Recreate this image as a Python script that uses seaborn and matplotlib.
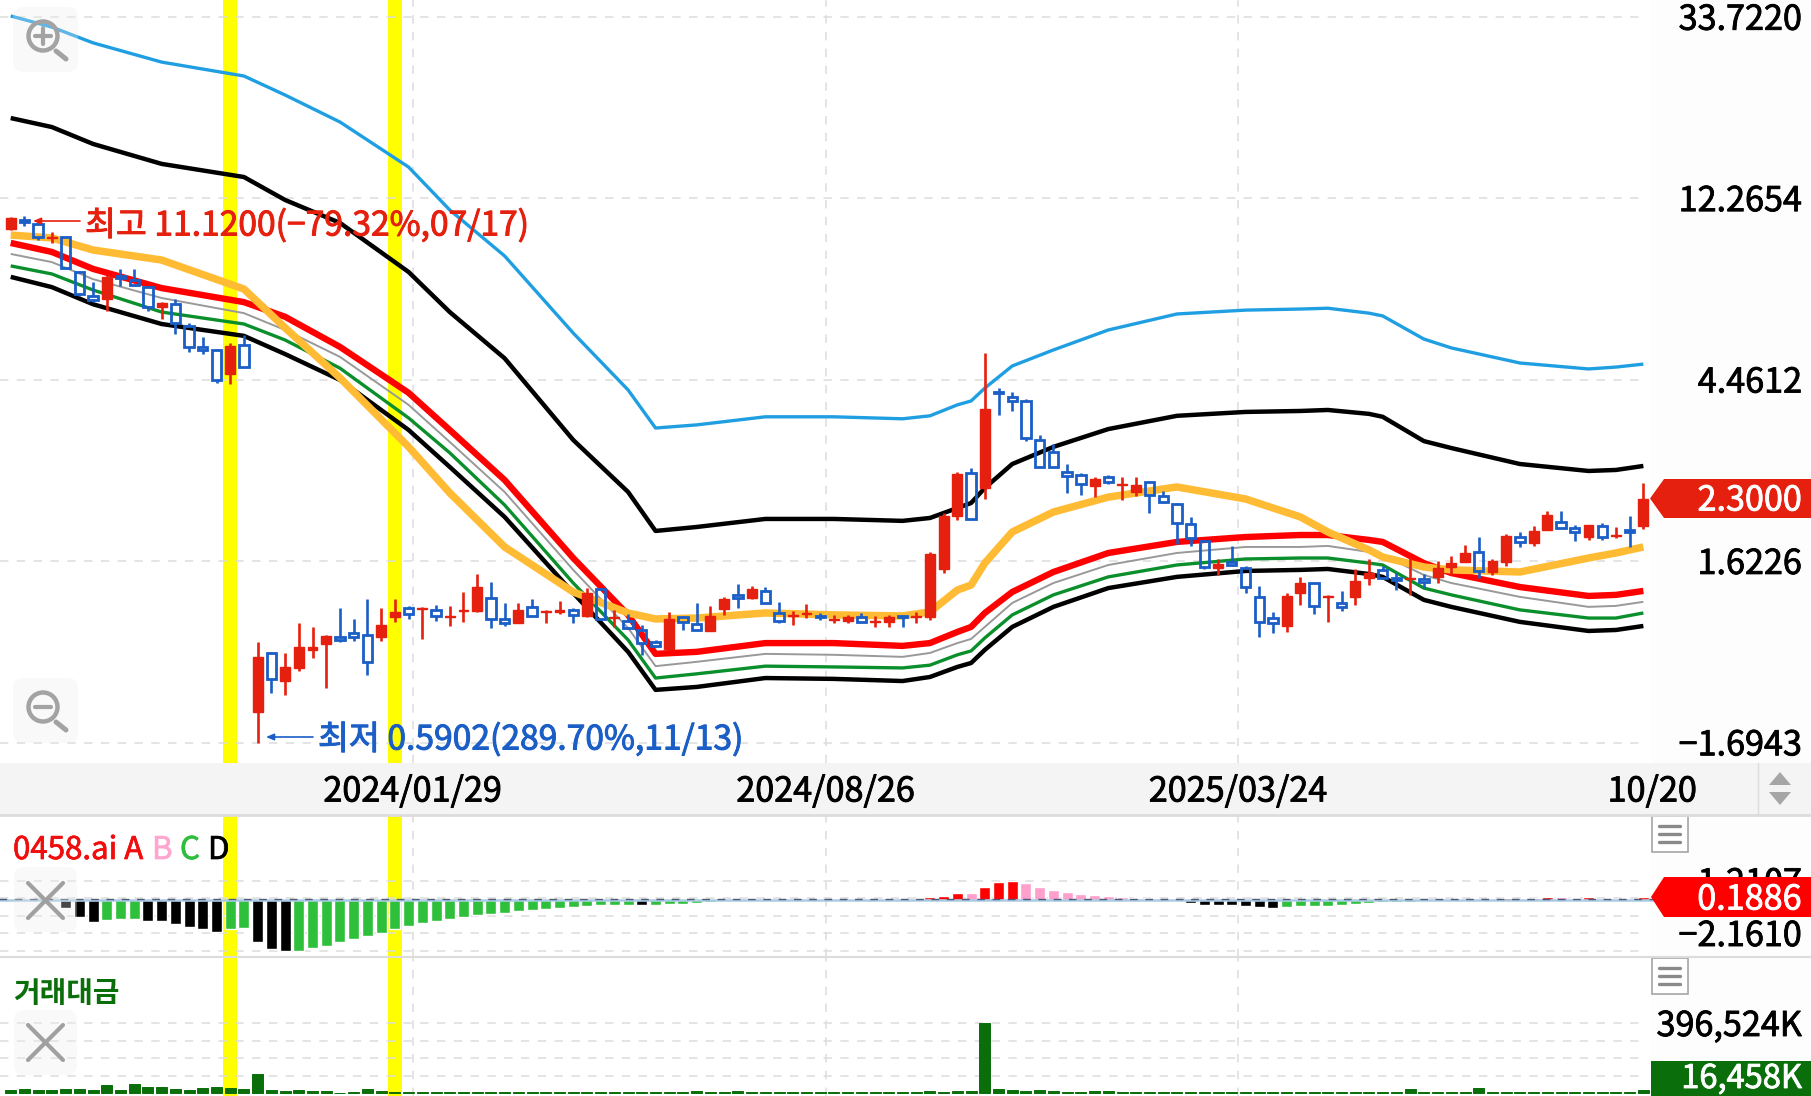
import pandas as pd
import seaborn as sns
import matplotlib.pyplot as plt
import matplotlib.patheffects as pe
from matplotlib.patches import Rectangle, Polygon, FancyBboxPatch, Circle
from matplotlib.transforms import ScaledTranslation

W, H = 1811, 1096

# weekly candles
opens = [10.35, 10.88, 10.64, 9.84, 9.89, 8.14, 7.12, 7.00, 7.96, 7.78,
         7.48, 6.69, 6.80, 6.02, 5.36, 5.27, 4.60, 5.42, 0.700, 0.973,
         0.832, 0.895, 0.990, 1.023, 1.064, 1.088, 1.076, 1.064, 1.189, 1.251,
         1.244, 1.237, 1.189, 1.230, 1.230, 1.322, 1.176, 1.150, 1.258, 1.223,
         1.223, 1.237, 1.196, 1.390, 1.182, 1.163, 1.106, 1.034, 0.996, 1.189,
         1.144, 1.100, 1.244, 1.345, 1.322, 1.375, 1.216, 1.196, 1.210, 1.196,
         1.170, 1.163, 1.189, 1.157, 1.157, 1.196, 1.189, 1.189, 1.554, 2.088,
         2.654, 2.441, 4.17, 4.06, 3.965, 3.19, 2.985, 2.669, 2.625, 2.469,
         2.596, 2.483, 2.387, 2.525, 2.334, 2.232, 1.998, 1.817, 1.563, 1.616,
         1.563, 1.330, 1.182, 1.131, 1.359, 1.437, 1.330, 1.286, 1.330, 1.478,
         1.546, 1.478, 1.470, 1.470, 1.487, 1.571, 1.616, 1.709, 1.528, 1.616,
         1.857, 1.797, 1.932, 2.020, 1.954, 1.857, 1.975, 1.868, 1.932, 1.975]
closes = [11.00, 10.76, 9.89, 9.89, 8.32, 7.20, 6.96, 7.92, 7.87, 7.57,
          6.69, 6.84, 6.12, 5.36, 5.27, 4.46, 5.39, 4.79, 0.952, 0.842,
          0.900, 1.006, 1.006, 1.070, 1.046, 1.064, 0.926, 1.138, 1.223, 1.210,
          1.251, 1.196, 1.196, 1.237, 1.405, 1.176, 1.150, 1.237, 1.196, 1.230,
          1.237, 1.203, 1.359, 1.176, 1.189, 1.118, 1.028, 1.012, 1.176, 1.157,
          1.106, 1.196, 1.315, 1.322, 1.390, 1.286, 1.163, 1.203, 1.216, 1.189,
          1.176, 1.189, 1.157, 1.163, 1.189, 1.189, 1.196, 1.689, 2.088, 2.639,
          2.054, 3.792, 4.15, 3.965, 3.225, 2.745, 2.745, 2.610, 2.497, 2.567,
          2.525, 2.497, 2.483, 2.350, 2.258, 2.009, 1.847, 1.570, 1.597, 1.589,
          1.405, 1.157, 1.150, 1.337, 1.437, 1.265, 1.337, 1.258, 1.454, 1.519,
          1.478, 1.462, 1.478, 1.446, 1.563, 1.606, 1.699, 1.537, 1.625, 1.868,
          1.807, 1.921, 2.100, 1.954, 1.910, 1.986, 1.857, 1.878, 1.910, 2.300]
highs = [11.06, 11.12, 10.70, 10.17, 9.95, 8.18, 7.69, 8.00, 8.28, 8.28,
         7.53, 6.88, 7.00, 6.12, 5.67, 5.30, 5.48, 5.73, 1.034, 0.979,
         0.973, 1.150, 1.125, 1.076, 1.251, 1.176, 1.315, 1.251, 1.315, 1.265,
         1.258, 1.272, 1.265, 1.367, 1.511, 1.446, 1.286, 1.286, 1.315, 1.237,
         1.301, 1.251, 1.397, 1.397, 1.237, 1.210, 1.138, 1.046, 1.223, 1.196,
         1.286, 1.265, 1.330, 1.429, 1.413, 1.405, 1.294, 1.230, 1.279, 1.216,
         1.203, 1.203, 1.216, 1.196, 1.203, 1.196, 1.223, 1.709, 2.123, 2.669,
         2.729, 5.18, 4.26, 4.17, 4.01, 3.28, 3.12, 2.79, 2.654, 2.596,
         2.625, 2.596, 2.596, 2.538, 2.40, 2.245, 2.077, 1.827, 1.643, 1.767,
         1.58, 1.413, 1.223, 1.359, 1.487, 1.446, 1.345, 1.375, 1.554, 1.643,
         1.58, 1.519, 1.652, 1.511, 1.625, 1.67, 1.777, 1.857, 1.643, 1.889,
         1.91, 1.975, 2.147, 2.147, 1.986, 1.986, 2.009, 1.964, 2.088, 2.51]
lows = [10.30, 10.52, 9.73, 9.57, 8.28, 7.12, 6.88, 6.55, 7.53, 7.53,
        6.55, 6.26, 5.76, 5.21, 5.15, 4.39, 4.36, 4.79, 0.5902, 0.779,
        0.770, 0.880, 0.946, 0.801, 1.034, 1.040, 0.860, 1.040, 1.157, 1.176,
        1.052, 1.163, 1.131, 1.157, 1.223, 1.118, 1.131, 1.150, 1.196, 1.150,
        1.210, 1.150, 1.189, 1.170, 1.125, 1.112, 0.963, 1.006, 0.990, 1.106,
        1.106, 1.100, 1.203, 1.251, 1.315, 1.286, 1.150, 1.138, 1.182, 1.170,
        1.150, 1.150, 1.157, 1.125, 1.125, 1.125, 1.150, 1.170, 1.519, 2.043,
        2.054, 2.296, 3.67, 3.75, 3.17, 2.745, 2.745, 2.375, 2.35, 2.32,
        2.497, 2.283, 2.334, 2.123, 2.245, 1.788, 1.767, 1.554, 1.503, 1.58,
        1.359, 1.064, 1.088, 1.094, 1.272, 1.21, 1.157, 1.23, 1.272, 1.421,
        1.478, 1.382, 1.345, 1.397, 1.437, 1.503, 1.616, 1.478, 1.503, 1.58,
        1.757, 1.767, 1.932, 1.954, 1.817, 1.827, 1.827, 1.847, 1.757, 1.943]

# moving lines, sampled at these candle numbers
knots = [0, 3, 6, 11, 17, 20, 24, 29, 32, 36, 41, 45, 47, 50, 55, 60, 65, 67, 69, 70,
         71, 73, 76, 80, 85, 90, 94, 96, 99, 100, 103, 105, 110, 115, 117, 119]
line_blue = [33.92, 31.88, 29.2, 26.23, 24.27, 21.83, 18.78, 14.61, 11.5, 8.90, 5.79, 4.216,
             3.41, 3.47, 3.63, 3.63, 3.59, 3.65, 3.88, 3.965, 4.26, 4.82, 5.27, 5.89,
             6.44, 6.58, 6.62, 6.65, 6.47, 6.37, 5.60, 5.33, 4.90, 4.74, 4.79, 4.87]
line_upper = [19.2, 18.26, 16.62, 14.87, 13.82, 12.16, 10.70, 8.14, 6.51, 5.03, 3.19, 2.387,
              1.921, 1.964, 2.054, 2.054, 2.032, 2.065, 2.183, 2.245, 2.441, 2.79, 3.07, 3.39,
              3.65, 3.73, 3.75, 3.771, 3.69, 3.63, 3.17, 3.05, 2.79, 2.684, 2.699, 2.76]
line_red = [9.57, 9.10, 8.28, 7.44, 6.88, 6.34, 5.36, 4.15, 3.373, 2.552, 1.652, 1.203,
            0.968, 0.979, 1.028, 1.028, 1.012, 1.028, 1.094, 1.125, 1.216, 1.367, 1.528, 1.699,
            1.807, 1.857, 1.878, 1.878, 1.827, 1.807, 1.606, 1.519, 1.405, 1.337, 1.345, 1.375]
line_grey = [9.0, 8.60, 7.82, 7.04, 6.47, 5.89, 5.07, 3.88, 3.155, 2.387, 1.546, 1.118,
             0.904, 0.926, 0.968, 0.963, 0.952, 0.973, 1.028, 1.052, 1.125, 1.286, 1.437, 1.589,
             1.699, 1.757, 1.757, 1.767, 1.709, 1.68, 1.503, 1.437, 1.33, 1.258, 1.265, 1.294]
line_green = [8.42, 8.05, 7.36, 6.51, 6.09, 5.57, 4.76, 3.607, 2.97, 2.22, 1.437, 1.046,
              0.846, 0.866, 0.904, 0.90, 0.895, 0.909, 0.963, 0.984, 1.058, 1.203, 1.345, 1.487,
              1.589, 1.643, 1.652, 1.652, 1.606, 1.589, 1.397, 1.345, 1.237, 1.182, 1.182, 1.216]
line_lower = [7.92, 7.48, 6.80, 6.09, 5.70, 5.15, 4.458, 3.373, 2.745, 2.077, 1.359, 0.979,
              0.792, 0.805, 0.846, 0.842, 0.832, 0.851, 0.90, 0.92, 0.99, 1.125, 1.258, 1.397,
              1.487, 1.537, 1.546, 1.554, 1.511, 1.487, 1.308, 1.258, 1.157, 1.10, 1.106, 1.131]
line_orange = [10.0, 9.84, 9.2, 8.7, 7.40, 5.96, 4.51, 3.07, 2.375, 1.757, 1.367, 1.216,
               1.176, 1.182, 1.216, 1.203, 1.196, 1.223, 1.382, 1.421, 1.606, 1.91, 2.135, 2.32,
               2.455, 2.296, 2.077, 1.91, 1.728, 1.661, 1.571, 1.546, 1.528, 1.652, 1.699, 1.757]

# 0458.ai panel
osc_values = [-0.02, -0.02, -0.02, -0.05, -0.56, -1.09, -1.41, -1.30, -1.24, -1.24,
              -1.39, -1.39, -1.56, -1.77, -1.86, -2.05, -1.88, -1.84, -2.69, -3.14,
              -3.29, -3.27, -3.12, -2.95, -2.74, -2.52, -2.35, -2.14, -1.88, -1.71,
              -1.52, -1.37, -1.24, -1.11, -0.96, -0.90, -0.83, -0.75, -0.68, -0.60,
              -0.53, -0.47, -0.38, -0.36, -0.36, -0.34, -0.34, -0.32, -0.28, -0.26,
              -0.24, -0.17, -0.11, -0.09, -0.04, -0.03, -0.02, -0.03, -0.04, -0.03,
              -0.04, -0.05, -0.03, -0.02, -0.02, -0.02, -0.02, 0.15, 0.24, 0.45,
              0.45, 0.83, 1.11, 1.22, 1.09, 0.83, 0.64, 0.49, 0.36, 0.30,
              0.24, 0.15, 0.10, 0.10, 0.06, -0.09, -0.19, -0.32, -0.32, -0.36,
              -0.41, -0.49, -0.53, -0.47, -0.43, -0.41, -0.38, -0.34, -0.28, -0.19,
              -0.17, -0.15, -0.13, -0.11, -0.06, -0.02, -0.02, -0.02, 0.02, 0.13,
              0.04, 0.09, 0.19, 0.15, 0.13, 0.17, 0.04, 0.04, 0.04, 0.1886]
osc_groups = (['D'] * 7 + ['C'] * 3 + ['D'] * 6 + ['C'] * 2 + ['D'] * 3 + ['C'] * 25 + ['D']
              + ['C'] * 20 + ['A'] * 3 + ['B'] + ['A'] * 3 + ['B'] * 11 + ['D'] * 8 + ['C'] * 16
              + ['A', 'B', 'A', 'A', 'B', 'B', 'A', 'B', 'B', 'B', 'A'])
osc_ticks = [1.2107, -2.1610]
osc_ticklabels = ['1.2107', '−2.1610']
osc_grid = [1.2107, 0.09, -1.032, -2.1610, -3.29]

# 거래대금 panel, in K
turnover = [17000, 26000, 17000, 19000, 23000, 25000, 21000, 45000, 21000, 51000,
            38000, 36000, 25000, 19000, 30000, 38000, 32000, 26000, 111000, 19000,
            13000, 19000, 11000, 13000, 4000, 6000, 23000, 13000, 8000, 8000,
            6000, 6000, 6000, 6000, 5000, 5000, 5000, 6000, 6000, 8000,
            7000, 7000, 7000, 7000, 7000, 7000, 6000, 5000, 6000, 6000,
            15000, 6000, 6000, 11000, 7000, 7000, 7000, 5000, 5000, 5000,
            5000, 5000, 5000, 5000, 5000, 5000, 5000, 13000, 8000, 15000,
            15000, 396524, 23000, 19000, 15000, 19000, 13000, 6000, 8000, 15000,
            11000, 8000, 6000, 5000, 6000, 6000, 5000, 6000, 6000, 5000,
            6000, 6000, 5000, 6000, 6000, 5000, 6000, 5000, 6000, 8000,
            6000, 6000, 23000, 6000, 5000, 6000, 6000, 28000, 6000, 5000,
            6000, 8000, 6000, 6000, 5000, 6000, 6000, 5000, 8000, 16458]
turnover_grid = [396524, 297393, 198262, 99131]

price_ticks = [33.7220, 12.2654, 4.4612, 1.6226, 0.5902]
price_ticklabels = ['33.7220', '12.2654', '4.4612', '1.6226', '−1.6943']
date_ticks = [29.3, 59.4, 89.46]
date_ticklabels = ['2024/01/29', '2024/08/26', '2025/03/24']
marked_candles = [16, 28]

RED = '#e6200e'
BLUE = '#1a5ec6'
GRID = '#dddddd'
DASH = (0, (5.5, 5.5))
FONT = ['Noto Sans CJK KR', 'DejaVu Sans']
LABEL_SIZE = 24.6
X_LEFT = -10.7 / 13.72
X_RIGHT = (1660 - 10.7) / 13.72
GRID_END = 119.3

sns.set_theme(style='white')
plt.rcParams['font.family'] = FONT
plt.rcParams['axes.unicode_minus'] = False


def heavy(width=0.6):
    # the app's font is a little heavier than Noto regular
    return [pe.withStroke(linewidth=width, foreground='black')]


def coloured(colour, width=0.7):
    return [pe.withStroke(linewidth=width, foreground=colour)]


def panel(top, bottom, left=0, right=1660):
    # axes placed by pixel box
    ax = fig.add_axes([left / W, 1 - bottom / H, (right - left) / W, (bottom - top) / H])
    ax.patch.set_visible(False)
    for s in ax.spines.values():
        s.set_visible(False)
    return ax


def dress(ax):
    ax.set_xlim(X_LEFT, X_RIGHT)
    ax.set_xlabel('')
    ax.set_ylabel('')
    for d in date_ticks:
        ax.axvline(d, color=GRID, lw=1.1, ls=DASH, zorder=1)
    for m in marked_candles:
        ax.axvspan(m - 0.5, m + 0.5, color='#ffff00', lw=0, zorder=0.5)
    ax.yaxis.tick_right()
    ax.tick_params(axis='y', length=0, pad=(1802 - 1660) * 0.72, labelsize=LABEL_SIZE, labelcolor='black')
    down = ScaledTranslation(0, -3.2 / 100, fig.dpi_scale_trans)
    for t in ax.get_yticklabels():
        t.set_horizontalalignment('right')
        t.set_verticalalignment('center')
        t.set_transform(t.get_transform() + down)
        t.set_path_effects(heavy())


fig = plt.figure(figsize=(W / 100, H / 100), dpi=100, facecolor='white')

# background of the right scale and the date strip
bg = fig.add_axes([0, 0, 1, 1], zorder=-1)
bg.set_xlim(0, W)
bg.set_ylim(H, 0)
bg.axis('off')
bg.add_patch(Rectangle((1651, 0), W - 1651, H, color='#fdfdfd', lw=0))
bg.add_patch(Rectangle((0, 763), W, 52, color='#f4f4f4', lw=0))

# price panel
ax = panel(0, 763)
ax.set_yscale('log')
ax.set_ylim(0.5268, 37.08)
ax.hlines(price_ticks, X_LEFT, GRID_END, color=GRID, lw=1.1, linestyles=DASH, zorder=1)

line_styles = [(line_blue, '#1f9fe2', 2.4), (line_upper, 'black', 3.2), (line_grey, '#999999', 1.4),
               (line_green, '#0b8f2c', 2.4), (line_lower, 'black', 3.2), (line_red, '#ff0000', 4.6),
               (line_orange, '#ffbb33', 5.4)]
for values, colour, lw in line_styles:
    sns.lineplot(x=knots, y=values, color=colour, lw=lw, ax=ax, zorder=3,
                 solid_capstyle='butt', solid_joinstyle='round')

# candles: up weeks filled red, down weeks hollow blue
up = [i for i in range(len(opens)) if closes[i] >= opens[i]]
down = [i for i in range(len(opens)) if closes[i] < opens[i]]
ax.vlines(up, [lows[i] for i in up], [highs[i] for i in up], color=RED, lw=1.9, zorder=4)
ax.bar(up, [closes[i] - opens[i] for i in up], bottom=[opens[i] for i in up], width=0.72,
       color=RED, edgecolor=RED, lw=1.0, zorder=5)
ax.vlines(down, [opens[i] for i in down], [highs[i] for i in down], color=BLUE, lw=1.9, zorder=4)
ax.vlines(down, [lows[i] for i in down], [closes[i] for i in down], color=BLUE, lw=1.9, zorder=4)
ax.bar(down, [opens[i] - closes[i] for i in down], bottom=[closes[i] for i in down], width=0.68,
       facecolor='none', edgecolor=BLUE, lw=2.0, zorder=5)

ax.set_yticks(price_ticks, price_ticklabels)
ax.minorticks_off()
ax.set_xticks(date_ticks + [119.65], date_ticklabels + ['10/20'])
ax.tick_params(axis='x', length=0, pad=29 * 0.72, labelsize=LABEL_SIZE, labelcolor='black')
for t in ax.get_xticklabels():
    t.set_verticalalignment('center')
    t.set_path_effects(heavy())
dress(ax)

# oscillator panel
ax2 = panel(816, 957)
osc = pd.DataFrame({'n': range(len(osc_values)), 'v': osc_values, 'g': osc_groups})
ax2.hlines(osc_grid, X_LEFT, GRID_END, color=GRID, lw=1.1, linestyles=DASH, zorder=1)
ax2.axhline(0, color='#a9cbe3', lw=1.8, zorder=3)
sns.barplot(data=osc, x='n', y='v', hue='g', dodge=False, native_scale=True, width=0.8, saturation=1,
            palette={'A': '#ff0000', 'B': '#ff9fcb', 'C': '#2ec03a', 'D': 'black'},
            legend=False, ax=ax2, zorder=2)
ax2.plot([-1, 120], [0.06, 0.06], color='#4d5a78', lw=1.0, ls=DASH, zorder=4)
ax2.set_ylim(-3.679, 5.359)
ax2.set_yticks(osc_ticks, osc_ticklabels)
ax2.set_xticks([])
dress(ax2)

# turnover panel
ax3 = panel(958, H)
vol = pd.DataFrame({'n': range(len(turnover)), 'v': turnover})
ax3.hlines(turnover_grid, X_LEFT, GRID_END, color=GRID, lw=1.1, linestyles=DASH, zorder=1)
sns.barplot(data=vol, x='n', y='v', native_scale=True, width=0.8, saturation=1, color='#0a6e0a',
            edgecolor='#0a6e0a', linewidth=0.7, ax=ax3, zorder=2)
ax3.set_ylim(-15300, 766500)
ax3.set_yticks([396524], ['396,524K'])
ax3.set_xticks([])
dress(ax3)

# everything that sits on top of the chart: buttons, tags, legends
top = fig.add_axes([0, 0, 1, 1], zorder=10)
top.set_xlim(0, W)
top.set_ylim(H, 0)
top.axis('off')
top.patch.set_visible(False)

top.plot([0, W], [815, 815], color='#dcdcdc', lw=2)
top.plot([0, W], [957, 957], color='#dcdcdc', lw=1.5)
top.plot([1757.5, 1757.5], [763, 815], color='#dddddd', lw=1)
top.add_patch(Polygon([(1780, 772), (1769, 785), (1791, 785)], color='#a6a6a6', lw=0))
top.add_patch(Polygon([(1780, 805), (1769, 792), (1791, 792)], color='#a6a6a6', lw=0))

for y0 in [7, 678]:
    top.add_patch(FancyBboxPatch((19, y0 + 6), 53, 53, boxstyle='round,pad=6,rounding_size=10',
                                 fc='#eeeeee', ec='none', alpha=0.3, zorder=2))
    top.add_patch(Circle((43, y0 + 29), 14.5, fc='none', ec='#a3a3a3', lw=3.2, zorder=3))
    top.plot([56, 66], [y0 + 44, y0 + 52], color='#a3a3a3', lw=3.6, solid_capstyle='round', zorder=3)
    top.plot([35, 51], [y0 + 29, y0 + 29], color='#a3a3a3', lw=3, zorder=3)
top.plot([43, 43], [28, 44], color='#a3a3a3', lw=3, zorder=3)

for y0, y1 in [(867, 883), (1010, 1025)]:
    top.add_patch(FancyBboxPatch((20, y0 + 6), 51, 53, boxstyle='round,pad=6,rounding_size=10',
                                 fc='#eeeeee', ec='none', alpha=0.3, zorder=2))
    top.plot([28, 63], [y1, y1 + 35], color='#a0a0a0', lw=3, zorder=3)
    top.plot([63, 28], [y1, y1 + 35], color='#a0a0a0', lw=3, zorder=3)

for y0 in [816, 958]:
    top.add_patch(Rectangle((1652, y0), 35.5, 35.5, fc='white', ec='#a5a5a5', lw=1.2))
    for dy in [10, 18, 26]:
        top.plot([1659, 1680], [y0 + dy, y0 + dy], color='#8a8a8a', lw=2.4)

white = [pe.withStroke(linewidth=0.6, foreground='white')]
top.add_patch(Polygon([(1650, 498.5), (1664, 479), (W, 479), (W, 518), (1664, 518)], color=RED, lw=0))
top.text(1802, 501, '2.3000', color='white', fontsize=LABEL_SIZE, ha='right', va='center', path_effects=white)
top.add_patch(Polygon([(1651, 897), (1664, 877), (W, 877), (W, 917), (1664, 917)], color='#ff0000', lw=0))
top.text(1802, 900, '0.1886', color='white', fontsize=LABEL_SIZE, ha='right', va='center', path_effects=white)
top.add_patch(Rectangle((1651, 1061), W - 1651, 35, color='#0a6e0a', lw=0))
top.text(1802, 1079, '16,458K', color='white', fontsize=23.5, ha='right', va='center', path_effects=white)

# high / low notes, arrows drawn apart so the text can sit a little lower
arrow = '-|>,head_length=0.38,head_width=0.16'
top.annotate('', xy=(33, 221), xytext=(80, 221),
             arrowprops=dict(arrowstyle=arrow, color=RED, lw=1.2, shrinkA=0, shrinkB=0))
top.text(85, 226, '최고 11.1200(−79.32%,07/17)', color=RED, fontsize=24.2, va='center',
         path_effects=coloured(RED))
top.annotate('', xy=(266, 737), xytext=(313, 737),
             arrowprops=dict(arrowstyle=arrow, color=BLUE, lw=1.2, shrinkA=0, shrinkB=0))
top.text(318, 740, '최저 0.5902(289.70%,11/13)', color=BLUE, fontsize=24.2, va='center',
         path_effects=coloured(BLUE))

legend_x = [13, 152, 180, 208]
legend_t = ['0458.ai A', 'B', 'C', 'D']
legend_c = ['#f00d0d', '#ffa6d0', '#2ebd3c', 'black']
for x, t, c in zip(legend_x, legend_t, legend_c):
    top.text(x, 850, t, color=c, fontsize=22.5, va='center', path_effects=coloured(c, 0.5))
top.text(13, 993, '거래대금', color='#0a6e0a', fontsize=20.8, va='center', fontweight='bold')

fig.savefig('out.png', dpi=100, facecolor='white')
